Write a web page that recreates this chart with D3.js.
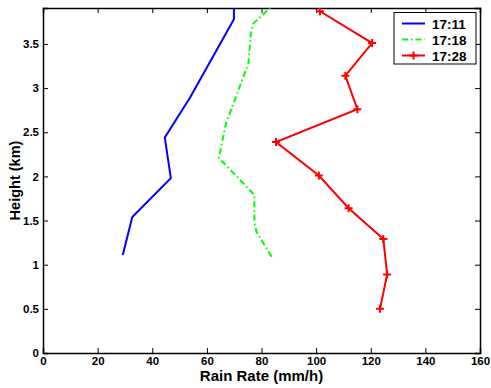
<html>
<head>
<meta charset="utf-8">
<script src="https://d3js.org/d3.v7.min.js"></script>
<style>
  body { margin: 0; background: #fff; }
  text { font-family: Arial, "Liberation Sans", sans-serif; font-weight: bold; }
</style>
</head>
<body>
<svg width="491" height="388"></svg>
<script>
// rain rate profiles (mm/h) vs height (km)
var times = ["17:11", "17:18", "17:28"];
var colors = ["#0000ff", "#00ff00", "#ff0000"];

var rate1711 = [29.2, 32.7, 46.8, 44.6, 53.8, 69.9, 69.9];
var height1711 = [1.11, 1.54, 1.98, 2.44, 2.89, 3.78, 4.0];

var rate1718 = [83.7, 78.2, 77.4, 77.4, 64.4, 67.0, 75.2, 76.1, 77.0, 84.5];
var height1718 = [1.09, 1.37, 1.47, 1.79, 2.21, 2.60, 3.28, 3.62, 3.73, 3.95];

var rate1728 = [123.4, 126.0, 124.6, 111.9, 101.0, 85.3, 115.1, 110.7, 120.5, 101.4];
var height1728 = [0.50, 0.89, 1.29, 1.64, 2.01, 2.39, 2.76, 3.14, 3.51, 3.87];

var xTicks = [0, 20, 40, 60, 80, 100, 120, 140, 160];
var yTicks = [0, 0.5, 1, 1.5, 2, 2.5, 3, 3.5];

var svg = d3.select("svg");
var mLeft = 43, mRight = 480, mTop = 8, mBottom = 353;

var x = d3.scaleLinear().domain([0, 160]).range([mLeft, mRight]);
var y = d3.scaleLinear().domain([0, 3.907]).range([mBottom, mTop]);

svg.append("defs").append("clipPath").attr("id", "clip")
  .append("rect").attr("x", mLeft).attr("y", mTop)
  .attr("width", mRight - mLeft).attr("height", mBottom - mTop);

// axes with inward ticks on all four sides
function fmt(d) { return d3.format("")(d); }
svg.append("g").attr("transform", "translate(0," + mBottom + ")")
  .call(d3.axisBottom(x).tickValues(xTicks).tickSize(-5).tickPadding(4).tickFormat(fmt));
svg.append("g").attr("transform", "translate(0," + mTop + ")")
  .call(d3.axisTop(x).tickValues(xTicks).tickSize(-5).tickFormat(""));
svg.append("g").attr("transform", "translate(" + mLeft + ",0)")
  .call(d3.axisLeft(y).tickValues(yTicks).tickSize(-5).tickPadding(4).tickFormat(fmt));
svg.append("g").attr("transform", "translate(" + mRight + ",0)")
  .call(d3.axisRight(y).tickValues(yTicks).tickSize(-5).tickFormat(""));

svg.selectAll(".domain").attr("stroke", "#000").attr("stroke-width", 1.5);
svg.selectAll(".tick line").attr("stroke", "#000");
svg.selectAll(".tick text").attr("font-size", 11.5).attr("fill", "#000")
  .attr("font-family", "Arial, 'Liberation Sans', sans-serif").attr("font-weight", "bold");

// axis labels
svg.append("text").attr("x", (mLeft + mRight) / 2).attr("y", 381)
  .attr("text-anchor", "middle").attr("font-size", 15).text("Rain Rate (mm/h)");
svg.append("text").attr("transform", "translate(20," + (mTop + mBottom) / 2 + ") rotate(-90)")
  .attr("text-anchor", "middle").attr("font-size", 14.5).text("Height (km)");

var line = d3.line().x(function(d) { return x(d[0]); }).y(function(d) { return y(d[1]); });
var plot = svg.append("g").attr("clip-path", "url(#clip)");

var series = [
  d3.zip(rate1711, height1711),
  d3.zip(rate1718, height1718),
  d3.zip(rate1728, height1728)
];
var dashes = [null, "6,3,1.5,3", null];
var plus = "M-4,0H4M0,-4V4";

series.forEach(function(s, i) {
  plot.append("path").datum(s).attr("d", line)
    .attr("fill", "none").attr("stroke", colors[i]).attr("stroke-width", 2)
    .attr("stroke-dasharray", dashes[i]);
});

// plus markers on 17:28
plot.selectAll(".mk").data(series[2]).enter().append("path")
  .attr("class", "mk")
  .attr("d", plus)
  .attr("transform", function(d) { return "translate(" + x(d[0]) + "," + y(d[1]) + ")"; })
  .attr("fill", "none").attr("stroke", colors[2]).attr("stroke-width", 2);

// legend
var lg = svg.append("g");
lg.append("rect").attr("x", 394).attr("y", 12.5).attr("width", 82).attr("height", 51.5)
  .attr("fill", "#fff").attr("stroke", "#000").attr("stroke-width", 1);
times.forEach(function(t, i) {
  var yy = 23.5 + i * 16;
  lg.append("line").attr("x1", 402).attr("x2", 425).attr("y1", yy).attr("y2", yy)
    .attr("stroke", colors[i]).attr("stroke-width", 2).attr("stroke-dasharray", dashes[i]);
  if (i == 2) {
    lg.append("path").attr("d", plus)
      .attr("transform", "translate(413.5," + yy + ")")
      .attr("fill", "none").attr("stroke", colors[i]).attr("stroke-width", 2);
  }
  lg.append("text").attr("x", 432).attr("y", yy + 5).attr("font-size", 13.5).text(t);
});
</script>
</body>
</html>
